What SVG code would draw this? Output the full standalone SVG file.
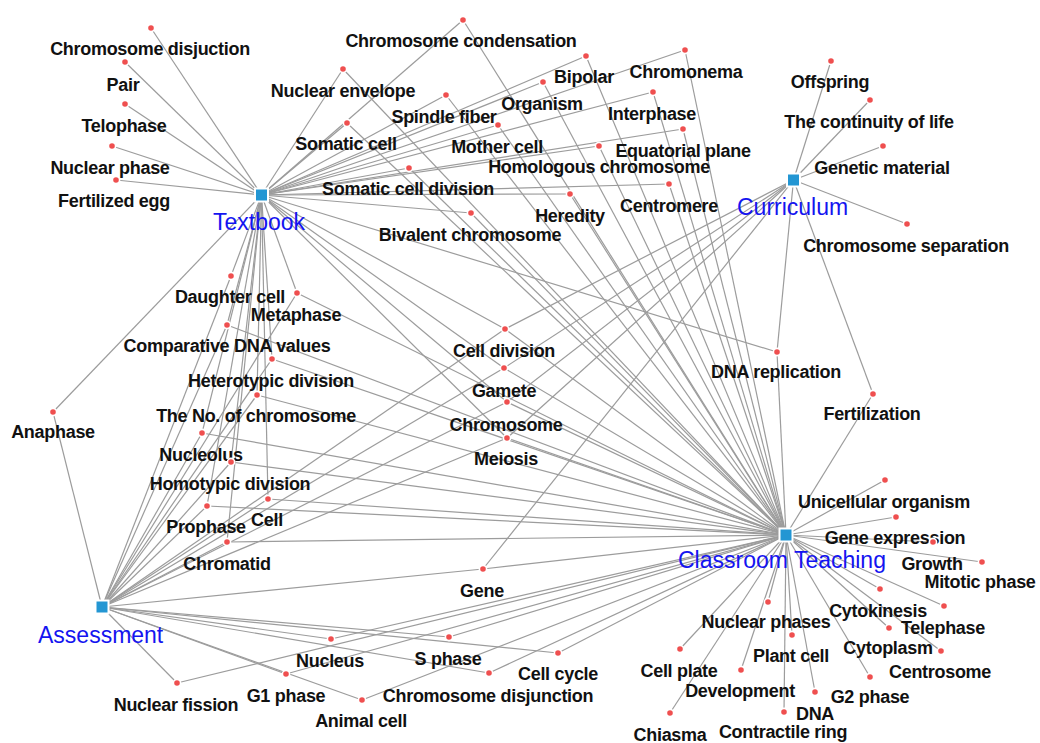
<svg xmlns="http://www.w3.org/2000/svg" width="1040" height="743" viewBox="0 0 1040 743">
<style>
.e{stroke:#9c9c9c;stroke-width:1.2;fill:none}
.d{fill:#ef4f4f;stroke:#ffffff;stroke-width:1.6}
.h{fill:#2396d3;stroke:#ffffff;stroke-width:2}
.t{font-family:"Liberation Sans",Arial,sans-serif;font-weight:bold;font-size:18px;letter-spacing:-0.3px;fill:#111;text-anchor:middle}
.ht{font-family:"Liberation Sans",Arial,sans-serif;font-size:23px;fill:#1414f0}
</style>
<rect width="1040" height="743" fill="#ffffff"/>
<g id="connectors">
<line class="e" x1="261.5" y1="195" x2="151" y2="28"/>
<line class="e" x1="261.5" y1="195" x2="125" y2="62"/>
<line class="e" x1="261.5" y1="195" x2="125" y2="104"/>
<line class="e" x1="261.5" y1="195" x2="112" y2="146"/>
<line class="e" x1="261.5" y1="195" x2="116" y2="180"/>
<line class="e" x1="261.5" y1="195" x2="463" y2="20"/>
<line class="e" x1="261.5" y1="195" x2="343" y2="69"/>
<line class="e" x1="261.5" y1="195" x2="586" y2="56"/>
<line class="e" x1="261.5" y1="195" x2="543" y2="82"/>
<line class="e" x1="261.5" y1="195" x2="446" y2="95"/>
<line class="e" x1="261.5" y1="195" x2="347" y2="123"/>
<line class="e" x1="261.5" y1="195" x2="498" y2="125"/>
<line class="e" x1="261.5" y1="195" x2="685" y2="50"/>
<line class="e" x1="261.5" y1="195" x2="653" y2="92"/>
<line class="e" x1="261.5" y1="195" x2="683" y2="129"/>
<line class="e" x1="261.5" y1="195" x2="599" y2="146"/>
<line class="e" x1="261.5" y1="195" x2="409" y2="168"/>
<line class="e" x1="261.5" y1="195" x2="669" y2="184"/>
<line class="e" x1="261.5" y1="195" x2="570" y2="194"/>
<line class="e" x1="261.5" y1="195" x2="471" y2="213"/>
<line class="e" x1="261.5" y1="195" x2="231" y2="276"/>
<line class="e" x1="261.5" y1="195" x2="297" y2="293"/>
<line class="e" x1="261.5" y1="195" x2="227" y2="325"/>
<line class="e" x1="261.5" y1="195" x2="272" y2="359"/>
<line class="e" x1="261.5" y1="195" x2="257" y2="395"/>
<line class="e" x1="261.5" y1="195" x2="53" y2="412"/>
<line class="e" x1="261.5" y1="195" x2="202" y2="433"/>
<line class="e" x1="261.5" y1="195" x2="231" y2="462"/>
<line class="e" x1="261.5" y1="195" x2="268" y2="499"/>
<line class="e" x1="261.5" y1="195" x2="207" y2="506"/>
<line class="e" x1="261.5" y1="195" x2="227" y2="542"/>
<line class="e" x1="261.5" y1="195" x2="505" y2="329"/>
<line class="e" x1="261.5" y1="195" x2="504" y2="368"/>
<line class="e" x1="261.5" y1="195" x2="507" y2="402"/>
<line class="e" x1="261.5" y1="195" x2="507" y2="438"/>
<line class="e" x1="261.5" y1="195" x2="777" y2="352"/>
<line class="e" x1="793.5" y1="180" x2="831" y2="61"/>
<line class="e" x1="793.5" y1="180" x2="870" y2="100"/>
<line class="e" x1="793.5" y1="180" x2="883" y2="146"/>
<line class="e" x1="793.5" y1="180" x2="907" y2="224"/>
<line class="e" x1="793.5" y1="180" x2="505" y2="329"/>
<line class="e" x1="793.5" y1="180" x2="504" y2="368"/>
<line class="e" x1="793.5" y1="180" x2="507" y2="402"/>
<line class="e" x1="793.5" y1="180" x2="507" y2="438"/>
<line class="e" x1="793.5" y1="180" x2="483" y2="569"/>
<line class="e" x1="793.5" y1="180" x2="777" y2="352"/>
<line class="e" x1="793.5" y1="180" x2="873" y2="394"/>
<line class="e" x1="102" y1="607" x2="231" y2="276"/>
<line class="e" x1="102" y1="607" x2="297" y2="293"/>
<line class="e" x1="102" y1="607" x2="227" y2="325"/>
<line class="e" x1="102" y1="607" x2="272" y2="359"/>
<line class="e" x1="102" y1="607" x2="257" y2="395"/>
<line class="e" x1="102" y1="607" x2="53" y2="412"/>
<line class="e" x1="102" y1="607" x2="202" y2="433"/>
<line class="e" x1="102" y1="607" x2="231" y2="462"/>
<line class="e" x1="102" y1="607" x2="268" y2="499"/>
<line class="e" x1="102" y1="607" x2="207" y2="506"/>
<line class="e" x1="102" y1="607" x2="227" y2="542"/>
<line class="e" x1="102" y1="607" x2="505" y2="329"/>
<line class="e" x1="102" y1="607" x2="504" y2="368"/>
<line class="e" x1="102" y1="607" x2="507" y2="402"/>
<line class="e" x1="102" y1="607" x2="507" y2="438"/>
<line class="e" x1="102" y1="607" x2="483" y2="569"/>
<line class="e" x1="102" y1="607" x2="449" y2="637"/>
<line class="e" x1="102" y1="607" x2="558" y2="653"/>
<line class="e" x1="102" y1="607" x2="489" y2="673"/>
<line class="e" x1="102" y1="607" x2="362" y2="700"/>
<line class="e" x1="102" y1="607" x2="177" y2="683"/>
<line class="e" x1="102" y1="607" x2="286" y2="674"/>
<line class="e" x1="102" y1="607" x2="331" y2="639"/>
<line class="e" x1="786" y1="535" x2="463" y2="20"/>
<line class="e" x1="786" y1="535" x2="343" y2="69"/>
<line class="e" x1="786" y1="535" x2="586" y2="56"/>
<line class="e" x1="786" y1="535" x2="543" y2="82"/>
<line class="e" x1="786" y1="535" x2="446" y2="95"/>
<line class="e" x1="786" y1="535" x2="347" y2="123"/>
<line class="e" x1="786" y1="535" x2="498" y2="125"/>
<line class="e" x1="786" y1="535" x2="685" y2="50"/>
<line class="e" x1="786" y1="535" x2="653" y2="92"/>
<line class="e" x1="786" y1="535" x2="683" y2="129"/>
<line class="e" x1="786" y1="535" x2="599" y2="146"/>
<line class="e" x1="786" y1="535" x2="409" y2="168"/>
<line class="e" x1="786" y1="535" x2="669" y2="184"/>
<line class="e" x1="786" y1="535" x2="570" y2="194"/>
<line class="e" x1="786" y1="535" x2="471" y2="213"/>
<line class="e" x1="786" y1="535" x2="297" y2="293"/>
<line class="e" x1="786" y1="535" x2="227" y2="325"/>
<line class="e" x1="786" y1="535" x2="272" y2="359"/>
<line class="e" x1="786" y1="535" x2="257" y2="395"/>
<line class="e" x1="786" y1="535" x2="202" y2="433"/>
<line class="e" x1="786" y1="535" x2="231" y2="462"/>
<line class="e" x1="786" y1="535" x2="268" y2="499"/>
<line class="e" x1="786" y1="535" x2="207" y2="506"/>
<line class="e" x1="786" y1="535" x2="227" y2="542"/>
<line class="e" x1="786" y1="535" x2="505" y2="329"/>
<line class="e" x1="786" y1="535" x2="504" y2="368"/>
<line class="e" x1="786" y1="535" x2="507" y2="402"/>
<line class="e" x1="786" y1="535" x2="507" y2="438"/>
<line class="e" x1="786" y1="535" x2="777" y2="352"/>
<line class="e" x1="786" y1="535" x2="873" y2="394"/>
<line class="e" x1="786" y1="535" x2="885" y2="480"/>
<line class="e" x1="786" y1="535" x2="896" y2="517"/>
<line class="e" x1="786" y1="535" x2="933" y2="542"/>
<line class="e" x1="786" y1="535" x2="982" y2="562"/>
<line class="e" x1="786" y1="535" x2="880" y2="589"/>
<line class="e" x1="786" y1="535" x2="944" y2="606"/>
<line class="e" x1="786" y1="535" x2="889" y2="628"/>
<line class="e" x1="786" y1="535" x2="941" y2="651"/>
<line class="e" x1="786" y1="535" x2="870" y2="677"/>
<line class="e" x1="786" y1="535" x2="815" y2="692"/>
<line class="e" x1="786" y1="535" x2="784" y2="712"/>
<line class="e" x1="786" y1="535" x2="768" y2="602"/>
<line class="e" x1="786" y1="535" x2="792" y2="635"/>
<line class="e" x1="786" y1="535" x2="741" y2="670"/>
<line class="e" x1="786" y1="535" x2="680" y2="649"/>
<line class="e" x1="786" y1="535" x2="670" y2="713"/>
<line class="e" x1="786" y1="535" x2="483" y2="569"/>
<line class="e" x1="786" y1="535" x2="449" y2="637"/>
<line class="e" x1="786" y1="535" x2="558" y2="653"/>
<line class="e" x1="786" y1="535" x2="489" y2="673"/>
<line class="e" x1="786" y1="535" x2="362" y2="700"/>
<line class="e" x1="786" y1="535" x2="177" y2="683"/>
<line class="e" x1="786" y1="535" x2="286" y2="674"/>
<line class="e" x1="786" y1="535" x2="331" y2="639"/>
</g>
<g id="hub-textbook"><rect class="h" x="255" y="188.5" width="13" height="13"/><text class="ht" x="213" y="230">Textbook</text></g>
<g id="hub-curriculum"><rect class="h" x="787" y="173.5" width="13" height="13"/><text class="ht" x="737" y="215">Curriculum</text></g>
<g id="hub-classroom"><rect class="h" x="779.5" y="528.5" width="13" height="13"/><text class="ht" x="678" y="568">Classroom Teaching</text></g>
<g id="hub-assessment"><rect class="h" x="95.5" y="600.5" width="13" height="13"/><text class="ht" x="38" y="643">Assessment</text></g>
<g id="n1"><circle class="d" cx="151" cy="28" r="3.6"/><text class="t" x="150" y="55">Chromosome disjuction</text></g>
<g id="n2"><circle class="d" cx="125" cy="62" r="3.6"/><text class="t" x="123" y="91">Pair</text></g>
<g id="n3"><circle class="d" cx="125" cy="104" r="3.6"/><text class="t" x="124" y="132">Telophase</text></g>
<g id="n4"><circle class="d" cx="112" cy="146" r="3.6"/><text class="t" x="110" y="174">Nuclear phase</text></g>
<g id="n5"><circle class="d" cx="116" cy="180" r="3.6"/><text class="t" x="114" y="207">Fertilized egg</text></g>
<g id="n6"><circle class="d" cx="463" cy="20" r="3.6"/><text class="t" x="461" y="47">Chromosome condensation</text></g>
<g id="n7"><circle class="d" cx="343" cy="69" r="3.6"/><text class="t" x="343" y="97">Nuclear envelope</text></g>
<g id="n8"><circle class="d" cx="586" cy="56" r="3.6"/><text class="t" x="584" y="83">Bipolar</text></g>
<g id="n9"><circle class="d" cx="543" cy="82" r="3.6"/><text class="t" x="542" y="110">Organism</text></g>
<g id="n10"><circle class="d" cx="446" cy="95" r="3.6"/><text class="t" x="444" y="123">Spindle fiber</text></g>
<g id="n11"><circle class="d" cx="347" cy="123" r="3.6"/><text class="t" x="346" y="150">Somatic cell</text></g>
<g id="n12"><circle class="d" cx="498" cy="125" r="3.6"/><text class="t" x="497" y="153">Mother cell</text></g>
<g id="n13"><circle class="d" cx="685" cy="50" r="3.6"/><text class="t" x="686" y="78">Chromonema</text></g>
<g id="n14"><circle class="d" cx="653" cy="92" r="3.6"/><text class="t" x="652" y="120">Interphase</text></g>
<g id="n15"><circle class="d" cx="683" cy="129" r="3.6"/><text class="t" x="683" y="157">Equatorial plane</text></g>
<g id="n16"><circle class="d" cx="599" cy="146" r="3.6"/><text class="t" x="599" y="173">Homologous chromosome</text></g>
<g id="n17"><circle class="d" cx="409" cy="168" r="3.6"/><text class="t" x="408" y="195">Somatic cell division</text></g>
<g id="n18"><circle class="d" cx="669" cy="184" r="3.6"/><text class="t" x="669" y="212">Centromere</text></g>
<g id="n19"><circle class="d" cx="570" cy="194" r="3.6"/><text class="t" x="570" y="222">Heredity</text></g>
<g id="n20"><circle class="d" cx="471" cy="213" r="3.6"/><text class="t" x="470" y="241">Bivalent chromosome</text></g>
<g id="n21"><circle class="d" cx="831" cy="61" r="3.6"/><text class="t" x="830" y="88">Offspring</text></g>
<g id="n22"><circle class="d" cx="870" cy="100" r="3.6"/><text class="t" x="869" y="128">The continuity of life</text></g>
<g id="n23"><circle class="d" cx="883" cy="146" r="3.6"/><text class="t" x="882" y="174">Genetic material</text></g>
<g id="n24"><circle class="d" cx="907" cy="224" r="3.6"/><text class="t" x="906" y="252">Chromosome separation</text></g>
<g id="n25"><circle class="d" cx="231" cy="276" r="3.6"/><text class="t" x="230" y="303">Daughter cell</text></g>
<g id="n26"><circle class="d" cx="297" cy="293" r="3.6"/><text class="t" x="296" y="321">Metaphase</text></g>
<g id="n27"><circle class="d" cx="227" cy="325" r="3.6"/><text class="t" x="227" y="352">Comparative DNA values</text></g>
<g id="n28"><circle class="d" cx="272" cy="359" r="3.6"/><text class="t" x="271" y="387">Heterotypic division</text></g>
<g id="n29"><circle class="d" cx="257" cy="395" r="3.6"/><text class="t" x="256" y="422">The No. of chromosome</text></g>
<g id="n30"><circle class="d" cx="53" cy="412" r="3.6"/><text class="t" x="53" y="438">Anaphase</text></g>
<g id="n31"><circle class="d" cx="202" cy="433" r="3.6"/><text class="t" x="201" y="461">Nucleolus</text></g>
<g id="n32"><circle class="d" cx="231" cy="462" r="3.6"/><text class="t" x="230" y="490">Homotypic division</text></g>
<g id="n33"><circle class="d" cx="268" cy="499" r="3.6"/><text class="t" x="267" y="526">Cell</text></g>
<g id="n34"><circle class="d" cx="207" cy="506" r="3.6"/><text class="t" x="206" y="533">Prophase</text></g>
<g id="n35"><circle class="d" cx="227" cy="542" r="3.6"/><text class="t" x="227" y="570">Chromatid</text></g>
<g id="n36"><circle class="d" cx="505" cy="329" r="3.6"/><text class="t" x="504" y="357">Cell division</text></g>
<g id="n37"><circle class="d" cx="504" cy="368" r="3.6"/><text class="t" x="504" y="397">Gamete</text></g>
<g id="n38"><circle class="d" cx="507" cy="402" r="3.6"/><text class="t" x="506" y="431">Chromosome</text></g>
<g id="n39"><circle class="d" cx="507" cy="438" r="3.6"/><text class="t" x="506" y="465">Meiosis</text></g>
<g id="n40"><circle class="d" cx="777" cy="352" r="3.6"/><text class="t" x="776" y="378">DNA replication</text></g>
<g id="n41"><circle class="d" cx="873" cy="394" r="3.6"/><text class="t" x="872" y="420">Fertilization</text></g>
<g id="n42"><circle class="d" cx="885" cy="480" r="3.6"/><text class="t" x="884" y="508">Unicellular organism</text></g>
<g id="n43"><circle class="d" cx="896" cy="517" r="3.6"/><text class="t" x="895" y="544">Gene expression</text></g>
<g id="n44"><circle class="d" cx="933" cy="542" r="3.6"/><text class="t" x="932" y="570">Growth</text></g>
<g id="n45"><circle class="d" cx="982" cy="562" r="3.6"/><text class="t" x="980" y="588">Mitotic phase</text></g>
<g id="n46"><circle class="d" cx="880" cy="589" r="3.6"/><text class="t" x="878" y="617">Cytokinesis</text></g>
<g id="n47"><circle class="d" cx="944" cy="606" r="3.6"/><text class="t" x="943" y="634">Telephase</text></g>
<g id="n48"><circle class="d" cx="889" cy="628" r="3.6"/><text class="t" x="888" y="654">Cytoplasm</text></g>
<g id="n49"><circle class="d" cx="941" cy="651" r="3.6"/><text class="t" x="940" y="678">Centrosome</text></g>
<g id="n50"><circle class="d" cx="870" cy="677" r="3.6"/><text class="t" x="870" y="703">G2 phase</text></g>
<g id="n51"><circle class="d" cx="815" cy="692" r="3.6"/><text class="t" x="815" y="720">DNA</text></g>
<g id="n52"><circle class="d" cx="784" cy="712" r="3.6"/><text class="t" x="783" y="738">Contractile ring</text></g>
<g id="n53"><circle class="d" cx="768" cy="602" r="3.6"/><text class="t" x="766" y="628">Nuclear phases</text></g>
<g id="n54"><circle class="d" cx="792" cy="635" r="3.6"/><text class="t" x="791" y="662">Plant cell</text></g>
<g id="n55"><circle class="d" cx="741" cy="670" r="3.6"/><text class="t" x="740" y="697">Development</text></g>
<g id="n56"><circle class="d" cx="680" cy="649" r="3.6"/><text class="t" x="679" y="677">Cell plate</text></g>
<g id="n57"><circle class="d" cx="670" cy="713" r="3.6"/><text class="t" x="670" y="741">Chiasma</text></g>
<g id="n58"><circle class="d" cx="483" cy="569" r="3.6"/><text class="t" x="482" y="597">Gene</text></g>
<g id="n59"><circle class="d" cx="449" cy="637" r="3.6"/><text class="t" x="448" y="665">S phase</text></g>
<g id="n60"><circle class="d" cx="558" cy="653" r="3.6"/><text class="t" x="558" y="680">Cell cycle</text></g>
<g id="n61"><circle class="d" cx="489" cy="673" r="3.6"/><text class="t" x="488" y="702">Chromosome disjunction</text></g>
<g id="n62"><circle class="d" cx="362" cy="700" r="3.6"/><text class="t" x="361" y="727">Animal cell</text></g>
<g id="n63"><circle class="d" cx="177" cy="683" r="3.6"/><text class="t" x="176" y="711">Nuclear fission</text></g>
<g id="n64"><circle class="d" cx="286" cy="674" r="3.6"/><text class="t" x="286" y="702">G1 phase</text></g>
<g id="n65"><circle class="d" cx="331" cy="639" r="3.6"/><text class="t" x="330" y="667">Nucleus</text></g>
</svg>
